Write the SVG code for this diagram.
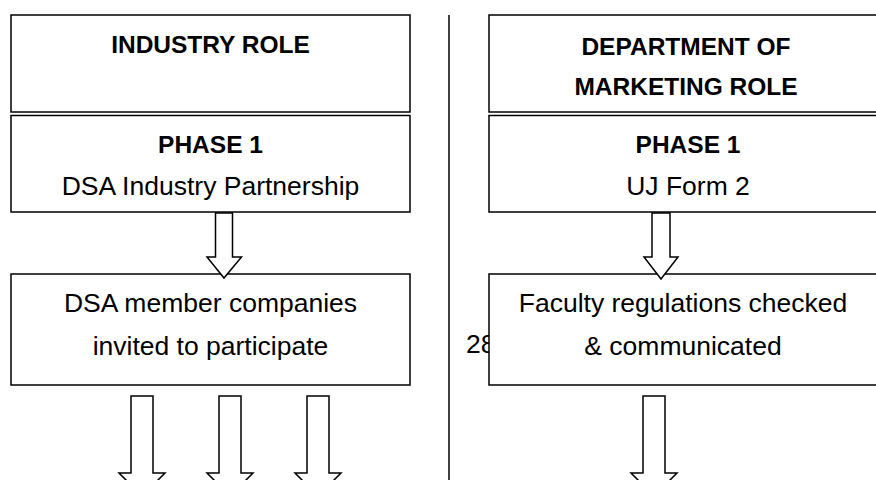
<svg xmlns="http://www.w3.org/2000/svg" width="876" height="480" viewBox="0 0 876 480">
  <style>
    .box { fill: #ffffff; stroke: #000000; stroke-width: 1.5; }
    .arrow { fill: #ffffff; stroke: #000000; stroke-width: 1.5; stroke-linejoin: miter; }
    .t { font-family: "Liberation Sans", Arial, sans-serif; font-size: 26.5px; fill: #000000; text-anchor: middle; }
    .b { font-weight: bold; font-size: 24.5px; }
    .divider { stroke: #000000; stroke-width: 1.5; }
  </style>
  <rect x="0" y="0" width="876" height="480" fill="#ffffff"/>

  <!-- page number partly hidden behind the right-hand box -->
  <text class="t" x="466" y="353" style="text-anchor:start">28</text>

  <!-- column divider -->
  <line class="divider" x1="449" y1="15" x2="449" y2="480"/>

  <g id="industry-role">
    <rect class="box" x="11" y="15" width="399" height="97"/>
    <text class="t b" x="210.5" y="53">INDUSTRY ROLE</text>
  </g>

  <g id="industry-phase1">
    <rect class="box" x="11" y="115.5" width="399" height="96.5"/>
    <text class="t b" x="210.5" y="153">PHASE 1</text>
    <text class="t" x="210.5" y="195">DSA Industry Partnership</text>
  </g>

  <g id="industry-members">
    <rect class="box" x="11" y="274" width="399" height="111"/>
    <text class="t" x="210.5" y="312">DSA member companies</text>
    <text class="t" x="210.5" y="355">invited to participate</text>
  </g>

  <g id="marketing-role">
    <rect class="box" x="489" y="15" width="399" height="97"/>
    <text class="t b" x="686" y="55">DEPARTMENT OF</text>
    <text class="t b" x="686" y="95">MARKETING ROLE</text>
  </g>

  <g id="marketing-phase1">
    <rect class="box" x="489" y="115.5" width="399" height="96.5"/>
    <text class="t b" x="688" y="153">PHASE 1</text>
    <text class="t" x="688" y="195">UJ Form 2</text>
  </g>

  <g id="marketing-regulations">
    <rect class="box" x="489" y="274" width="399" height="111"/>
    <text class="t" x="683" y="312">Faculty regulations checked</text>
    <text class="t" x="683" y="355">&amp; communicated</text>
  </g>

  <g id="connectors">
    <!-- block arrows: phase 1 to next step -->
    <polygon class="arrow" points="215.5,213 232.5,213 232.5,257 241.5,257 224,278 207,257 215.5,257"/>
    <polygon class="arrow" points="652,213 670,213 670,257 678,257 661,279 644,257 652,257"/>
    <!-- block arrows leaving the lower boxes -->
    <polygon class="arrow" points="131,396 153,396 153,473 165,473 142,496 119,473 131,473"/>
    <polygon class="arrow" points="219,396 241,396 241,473 253,473 230,496 207,473 219,473"/>
    <polygon class="arrow" points="307,396 329,396 329,473 341,473 318,496 295,473 307,473"/>
    <polygon class="arrow" points="643,396 665,396 665,473 677,473 654,496 631,473 643,473"/>
  </g>
</svg>
